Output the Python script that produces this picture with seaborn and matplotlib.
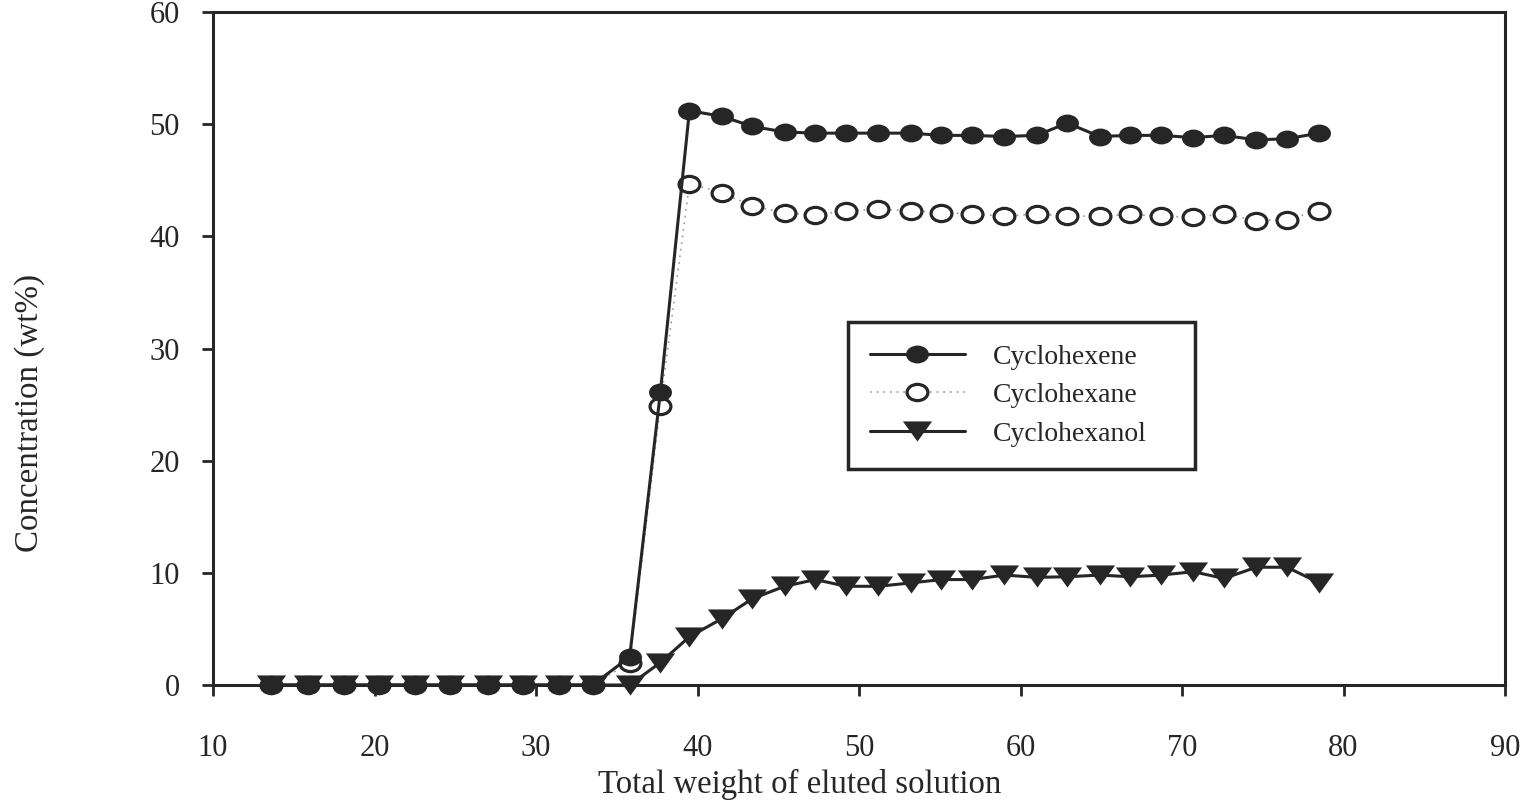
import numpy as np
import pandas as pd
import matplotlib
matplotlib.use("Agg")
import matplotlib.pyplot as plt
from matplotlib.path import Path
from matplotlib.transforms import Affine2D
import seaborn as sns

# ---- data ----
total_weight = [13.6, 15.9, 18.1, 20.3, 22.5, 24.7, 27.0, 29.2, 31.4, 33.5,
                35.8, 37.7, 39.5, 41.5, 43.4, 45.4, 47.3, 49.2, 51.2, 53.2,
                55.1, 57.0, 59.0, 61.0, 62.9, 64.9, 66.8, 68.7, 70.7, 72.6,
                74.6, 76.5, 78.5]
cyclohexene = [0, 0, 0, 0, 0, 0, 0, 0, 0, 0,
               2.5, 26.1, 51.2, 50.7, 49.8, 49.3, 49.2, 49.2, 49.2, 49.2,
               49.0, 49.0, 48.9, 49.0, 50.1, 48.9, 49.0, 49.0, 48.8, 49.0,
               48.6, 48.7, 49.2]
cyclohexane = [0, 0, 0, 0, 0, 0, 0, 0, 0, 0,
               2.0, 24.9, 44.7, 43.9, 42.7, 42.1, 41.9, 42.3, 42.4, 42.3,
               42.1, 42.0, 41.8, 42.0, 41.8, 41.8, 41.95, 41.8, 41.7, 42.0,
               41.4, 41.5, 42.3]
cyclohexanol = [0, 0, 0, 0, 0, 0, 0, 0, 0, 0,
                0, 2.0, 4.3, 5.9, 7.7, 8.8, 9.4, 8.8, 8.8, 9.1,
                9.4, 9.4, 9.8, 9.6, 9.65, 9.8, 9.65, 9.8, 10.1, 9.5,
                10.5, 10.5, 9.1]
series_names = ["Cyclohexene", "Cyclohexane", "Cyclohexanol"]
x_ticks = [10, 20, 30, 40, 50, 60, 70, 80, 90]
y_ticks = [0, 10, 20, 30, 40, 50, 60]
x_label = "Total weight of eluted solution"
y_label = "Concentration (wt%)"

# ---- style ----
sns.set_style("ticks")
plt.rcParams["font.family"] = ["Liberation Serif", "DejaVu Serif"]

fig = plt.figure(figsize=(15.24, 8.08), dpi=100)
ax = fig.add_axes([213 / 1524, 1 - 685 / 808, (1505 - 213) / 1524, (685 - 12) / 808])

ink = "#262626"
ellipse = Path.unit_circle().transformed(Affine2D().scale(1.0, 0.78))
tri_down = Path([(-1.45, 1.0), (1.45, 1.0), (0.0, -1.0), (-1.45, 1.0)],
                [Path.MOVETO, Path.LINETO, Path.LINETO, Path.CLOSEPOLY])

df = pd.DataFrame({"w": total_weight, "ene": cyclohexene,
                   "ane": cyclohexane, "anol": cyclohexanol})

# drawing order: cyclohexane bottom, cyclohexanol, cyclohexene on top
sns.lineplot(data=df, x="w", y="ane", ax=ax, color="#9a9a9a", lw=1.2,
             linestyle=(0, (1, 3)), marker=ellipse, markersize=15,
             markerfacecolor="white", markeredgecolor=ink, markeredgewidth=2.3,
             label=series_names[1], zorder=3, clip_on=False)
sns.lineplot(data=df, x="w", y="anol", ax=ax, color=ink, lw=2.2,
             marker=tri_down, markersize=21, markerfacecolor=ink,
             markeredgecolor=ink, markeredgewidth=0,
             label=series_names[2], zorder=4, clip_on=False)
sns.lineplot(data=df, x="w", y="ene", ax=ax, color=ink, lw=2.2,
             marker=ellipse, markersize=16.5, markerfacecolor=ink,
             markeredgecolor=ink, markeredgewidth=0,
             label=series_names[0], zorder=5, clip_on=False)

ax.set_xlim(10, 90)
ax.set_ylim(0, 60)
ax.set_xticks(x_ticks)
ax.set_yticks(y_ticks)
ax.tick_params(axis="x", direction="out", length=8, width=2, color=ink,
               labelsize=22, pad=27)
ax.tick_params(axis="y", direction="out", length=8, width=2, color=ink,
               labelsize=22, pad=16)
for sp in ax.spines.values():
    sp.set_visible(True)
    sp.set_linewidth(2.2)
    sp.set_color(ink)
    sp.set_zorder(2)

ax.set_xlabel(x_label, fontsize=23.7)
ax.set_ylabel(y_label, fontsize=23.8)
ax.xaxis.set_label_coords((800 - 213) / 1292, -0.125)
ax.yaxis.set_label_coords(-0.130, (685 - 413) / 673)

handles, labels = ax.get_legend_handles_labels()
order = [labels.index(n) for n in series_names]
leg = ax.legend([handles[i] for i in order], [labels[i] for i in order],
                loc="upper left",
                bbox_to_anchor=((848 - 213) / 1292, (685 - 467) / 673,
                                (1195 - 848) / 1292, (467 - 322) / 673),
                mode="expand",
                fontsize=20, frameon=True, fancybox=False, framealpha=1,
                edgecolor=ink, handlelength=3.4, handletextpad=1.0,
                labelspacing=0.47, borderpad=0.8, borderaxespad=0)
leg.get_frame().set_linewidth(2.5)
leg.set_zorder(10)

fig.savefig("out.png", dpi=100, facecolor="white")
